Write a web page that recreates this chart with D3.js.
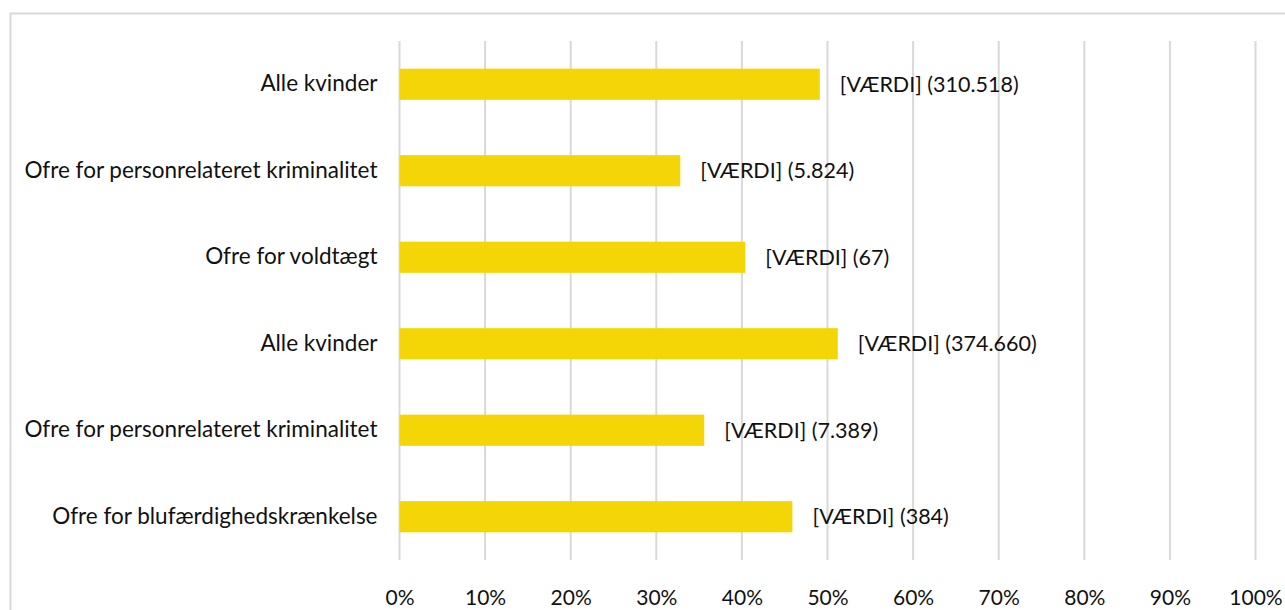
<!DOCTYPE html>
<html><head><meta charset="utf-8">
<script src="https://cdn.jsdelivr.net/npm/d3@7"></script>
<style>
body{margin:0;background:#fff;}
svg{display:block;}
text{font-family:Lato,sans-serif;fill:#111;}
</style></head>
<body>
<svg id="chart" width="1285" height="610"></svg>
<script>
const categories = ["Alle kvinder","Ofre for personrelateret kriminalitet","Ofre for voldtægt","Alle kvinder","Ofre for personrelateret kriminalitet","Ofre for blufærdighedskrænkelse"];
const values = [0.491, 0.328, 0.404, 0.512, 0.356, 0.459];
const counts = ["310.518","5.824","67","374.660","7.389","384"];
const tickValues = [0,0.1,0.2,0.3,0.4,0.5,0.6,0.7,0.8,0.9,1.0];

const FF = "Lato,sans-serif", TC = "#111";
const svg = d3.select("#chart");
const W = 1285, H = 610;
const m = {left:399.5, right:29.5, top:41, bottom:50};

svg.append("rect").attr("x",10.5).attr("y",13.5).attr("width",W).attr("height",H)
  .attr("fill","none").attr("stroke","#d9d9d9").attr("stroke-width",2);

const x = d3.scaleLinear().domain([0,1]).range([m.left, W-m.right]);
const y = d3.scaleBand().domain(d3.range(categories.length)).range([m.top, H-m.bottom]).paddingInner(0.64).paddingOuter(0.32);

svg.append("g").selectAll("line").data(tickValues).join("line")
  .attr("x1",d=>x(d)).attr("x2",d=>x(d)).attr("y1",m.top).attr("y2",H-m.bottom)
  .attr("stroke","#d9d9d9").attr("stroke-width",2);

svg.append("g").selectAll("rect").data(values).join("rect")
  .attr("x",x(0)).attr("y",(d,i)=>y(i)).attr("width",d=>x(d)-x(0)).attr("height",y.bandwidth())
  .attr("fill","#f4d505");

svg.append("g").selectAll("text").data(values).join("text")
  .attr("x",d=>x(d)+20).attr("y",(d,i)=>y(i)+y.bandwidth()/2).attr("dy","0.35em")
  .attr("font-size",21.5).text((d,i)=>"[VÆRDI] ("+counts[i]+")");

const yAxis = d3.axisLeft(y).tickSize(0).tickPadding(22).tickFormat(i=>categories[i]);
const gy = svg.append("g").attr("transform",`translate(${m.left},0)`).call(yAxis);
gy.select(".domain").remove();
gy.selectAll("text").attr("font-size",22.5).style("font-family",FF).attr("fill",TC);

const xAxis = d3.axisBottom(x).tickValues(tickValues).tickSize(0).tickPadding(30).tickFormat(d3.format(".0%"));
const gx = svg.append("g").attr("transform",`translate(0,${H-m.bottom})`).call(xAxis);
gx.select(".domain").remove();
gx.selectAll("text").attr("font-size",21).style("font-family",FF).attr("fill",TC);
</script>
</body></html>
